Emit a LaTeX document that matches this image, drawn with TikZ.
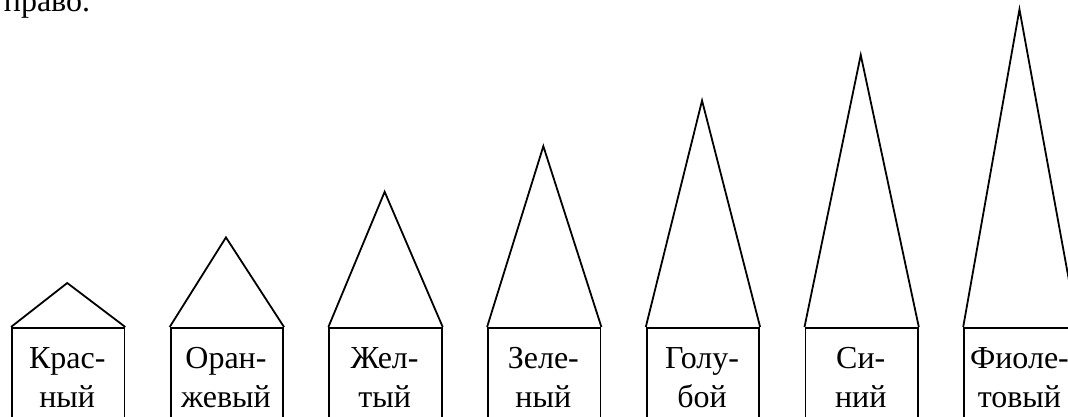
\documentclass[tikz,border=0pt]{standalone}
\usepackage{fontspec}
\setmainfont{Liberation Serif}
\begin{document}
\begin{tikzpicture}[x=1pt,y=1pt, line width=1.8pt, line join=miter,
  housebox/.style={draw, rectangle, minimum width=112.5pt, minimum height=110pt, anchor=north west, inner sep=0pt},
  lbl/.style={font=\fontsize{32}{39}\selectfont, anchor=base, inner sep=0pt}]
\useasboundingbox (0,0) rectangle (1068,416);
\clip (0,0) rectangle (1068,416);
\node[lbl, anchor=base west] (top) at (3,404.5) {право.};
\foreach \i/\a/\b in {0/Крас-/ный, 1/Оран-/жевый, 2/Жел-/тый, 3/Зеле-/ный, 4/Голу-/бой, 5/Си-/ний, 6/Фиоле-/товый} {
  \pgfmathsetmacro\xl{11+158.7*\i}
  \pgfmathsetmacro\xc{\xl+56.25}
  \pgfmathsetmacro\ya{133+45.6*\i}
  \node[housebox] (h\i) at (\xl,89) {};
  \coordinate (r\i) at (\xc,\ya);
  \draw (h\i.north west) -- (r\i) -- (h\i.north east);
  \node[lbl] (ta\i) at (\xc,48) {\a};
  \node[lbl] (tb\i) at (\xc,9) {\b};
}
\end{tikzpicture}
\end{document}
